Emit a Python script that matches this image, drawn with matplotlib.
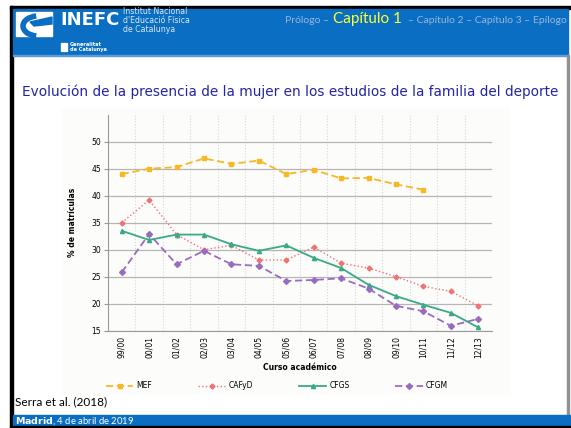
import matplotlib
matplotlib.use("Agg")
import matplotlib.pyplot as plt
from matplotlib.patches import Rectangle, Polygon, Arc

cursos = ["99/00", "00/01", "01/02", "02/03", "03/04", "04/05", "05/06",
          "06/07", "07/08", "08/09", "09/10", "10/11", "11/12", "12/13"]
mef = [44.0, 45.0, 45.3, 46.9, 45.9, 46.5, 44.0, 44.8, 43.2, 43.3, 42.1, 41.1]
cafyd = [35.0, 39.2, 32.8, 30.0, 30.8, 28.1, 28.1, 30.5, 27.5, 26.6, 25.0, 23.2, 22.3, 19.6]
cfgs = [33.5, 31.8, 32.8, 32.8, 31.0, 29.8, 30.8, 28.5, 26.6, 23.5, 21.4, 19.8, 18.3, 15.6]
cfgm = [25.8, 32.9, 27.3, 29.8, 27.3, 27.0, 24.2, 24.4, 24.7, 22.8, 19.6, 18.6, 15.9, 17.2]
yticks = [15, 20, 25, 30, 35, 40, 45, 50]

BLUE = "#0a6fc2"
W, H = 571, 428

fig = plt.figure(figsize=(W / 100, H / 100), dpi=100)

# slide background in pixel coordinates
bg = fig.add_axes([0, 0, 1, 1], zorder=0)
bg.set_xlim(0, W)
bg.set_ylim(H, 0)
bg.axis("off")
bg.add_patch(Rectangle((10, 6), W - 10, 3, color="black"))
bg.add_patch(Rectangle((10, 6), 3, H - 6, color="black"))
bg.add_patch(Rectangle((13, 9), W - 16, 46, color=BLUE))
bg.add_patch(Rectangle((13, 55), W - 16, 1, color="#5d9be0"))
bg.add_patch(Rectangle((567, 55), 1.5, 360, color="#909090"))
bg.add_patch(Rectangle((13, 415), W - 13, 11, color=BLUE))
bg.add_patch(Rectangle((10, 426), W - 10, 2, color="black"))
# chart area
bg.add_patch(Rectangle((62, 108), 447, 286, color="#fcfcfa"))

# INEFC logo (rough)
bg.add_patch(Polygon([(16, 12), (52, 12), (52, 36), (16, 36)], closed=True, color="white"))
bg.add_patch(Arc((38, 26), 30, 20, theta1=100, theta2=260, color=BLUE, lw=4))
bg.add_patch(Polygon([(30, 22), (52, 17), (52, 24), (34, 26)], closed=True, color=BLUE))
bg.text(60, 20, "INEFC", color="white", fontsize=13, fontweight="bold",
        va="center", ha="left", family="DejaVu Sans")
bg.text(123, 20, "Institut Nacional\nd'Educació Física\nde Catalunya", color="#dce8f6",
        fontsize=5.6, va="center", ha="left", linespacing=1.0)
for i in range(3):
    bg.add_patch(Rectangle((61 + i * 2.3, 43), 1.3, 8, color="white"))
bg.text(70, 47, "Generalitat\nde Catalunya", color="white", fontsize=3.6,
        fontweight="bold", va="center", ha="left", linespacing=1.0)

# navigation
nav_c = "#97b5df"
bg.text(285, 20, "Prólogo – ", color=nav_c, fontsize=7.5, va="center", ha="left", family="Lato")
bg.text(333, 19, "Capítulo 1", color="#ffff33", fontsize=11, va="center", ha="left", family="Lato")
bg.text(567, 20, "– Capítulo 2 – Capítulo 3 – Epílogo", color=nav_c, fontsize=7.5,
        va="center", ha="right", family="Lato")

bg.text(290, 92, "Evolución de la presencia de la mujer en los estudios de la familia del deporte",
        color="#2424a6", fontsize=9.8, va="center", ha="center", family="DejaVu Sans")
bg.text(15, 402, "Serra et al. (2018)", color="black", fontsize=8.5, va="center", ha="left",
        family="Lato")
bg.text(15, 421.5, r"$\bf{Madrid}$, 4 de abril de 2019", color="white", fontsize=6.8,
        va="center", ha="left", family="Lato")

# chart
ax = fig.add_axes([108 / W, (H - 330.7) / H, 384 / W, 216 / H], zorder=1)
ax.set_facecolor("none")
x = list(range(len(cursos)))
ax.plot(x[:len(mef)], mef, color="#f6b826", ls=(0, (4, 2)), lw=1.3, marker="s", ms=3.5, label="MEF")
ax.plot(x, cafyd, color="#f07272", ls=":", lw=1.0, marker="D", ms=2.5, label="CAFyD")
ax.plot(x, cfgs, color="#3aa985", ls="-", lw=1.3, marker="^", ms=3, label="CFGS")
ax.plot(x, cfgm, color="#9a6cc0", ls=(0, (4, 2)), lw=1.3, marker="D", ms=3, label="CFGM")

ax.set_xlim(-0.5, len(cursos) - 0.5)
ax.set_ylim(15, 55)
ax.set_yticks(yticks)
ax.set_xticks(x)
ax.set_xticklabels(cursos, rotation=90)
ax.set_xticks([i + 0.5 for i in x[:-1]], minor=True)
ax.tick_params(axis="x", which="major", length=0, pad=4, labelsize=5.5)
ax.tick_params(axis="x", which="minor", length=0)
ax.tick_params(axis="y", length=3, color="#999999", labelsize=5.5, pad=2)
ax.grid(axis="y", color="#b5b5b5", lw=0.9)
ax.grid(axis="x", which="minor", color="#d6d6d6", ls=":", lw=0.8)
ax.set_axisbelow(True)
for s in ["top", "right"]:
    ax.spines[s].set_visible(False)
for s in ["left", "bottom"]:
    ax.spines[s].set_color("#999999")
ax.set_xlabel("Curso académico", fontsize=5.5, fontweight="bold", labelpad=3)
ax.set_ylabel("% de matrículas", fontsize=5.5, fontweight="bold", labelpad=10)

fig.legend(loc="center", bbox_to_anchor=(277 / W, 1 - 386 / H), ncol=4, frameon=False,
           fontsize=5.5, columnspacing=6, handlelength=3.6, handletextpad=0.4)

fig.savefig("out.png", dpi=100)
